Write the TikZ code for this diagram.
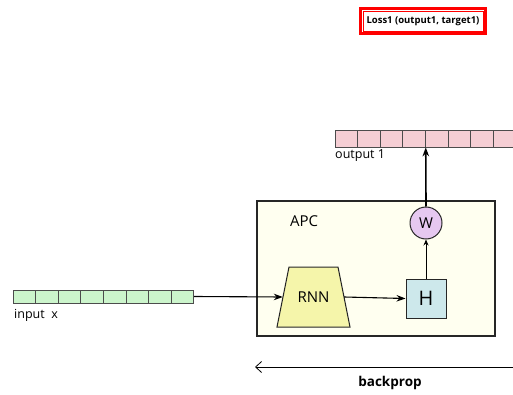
\documentclass[tikz,border=0pt]{standalone}
\usepackage{fontspec}
\setmainfont{Open Sans}
\usetikzlibrary{arrows.meta}
\usetikzlibrary{positioning}
\usetikzlibrary{shapes.geometric}

\definecolor{inGreen}{RGB}{204,245,204}
\definecolor{outPink}{RGB}{245,206,212}
\definecolor{apcYellow}{RGB}{255,255,240}
\definecolor{rnnYellow}{RGB}{245,245,170}
\definecolor{hBlue}{RGB}{205,232,235}
\definecolor{wPurple}{RGB}{230,200,240}

\tikzset{
  cell/.style={draw=black!70, line width=0.7pt, minimum width=22.6pt, inner sep=0pt},
  block/.style={draw=black!85, line width=1pt},
  flow/.style={-{Stealth[length=9pt,width=6.5pt]}, line width=1.1pt},
}

\begin{document}
\begin{tikzpicture}[x=1pt, y=1pt]
    \useasboundingbox (0,0) rectangle (513,-395);

    % loss box
    \node (loss) [draw=red, line width=0.8pt, minimum width=120pt, minimum height=20pt,
      font=\bfseries\fontsize{9.5}{11}\selectfont] at (423,-21) {Loss1 (output1, target1)};
    \draw [red, line width=3pt] ([shift={(-2.5,-2.5)}]loss.south west) rectangle ([shift={(2.5,2.5)}]loss.north east);

    % output strip
    \foreach \i in {1,...,9}
      \node (out\i) [cell, fill=outPink, minimum height=17pt] at (346.3+22.6*\i-22.6,-138.5) {};
    \node (outlab) [anchor=north west, inner sep=0pt, font=\fontsize{12.5}{14}\selectfont] at (335,-149) {output 1};

    % APC block
    \draw [block, fill=apcYellow, line width=1.4pt] (257,-201) rectangle (495,-336);
    \node (apc) [font=\fontsize{15}{17}\selectfont] at (304,-221) {APC};

    \node (w) [block, circle, fill=wPurple, minimum size=32pt, inner sep=0pt,
      font=\fontsize{15}{17}\selectfont] at (426,-223) {W};
    \node (h) [block, fill=hBlue, minimum width=40pt, minimum height=39pt, inner sep=0pt,
      font=\fontsize{20}{22}\selectfont] at (426,-298.5) {H};
    \draw [block, fill=rnnYellow] (289,-267) -- (338,-267) -- (350,-327) -- (277,-327) -- cycle;
    \node (rnn) [minimum width=61pt, minimum height=20pt, inner sep=0pt,
      font=\fontsize{15}{17}\selectfont] at (313.5,-297) {RNN};

    % input strip
    \foreach \i in {1,...,8}
      \node (in\i) [cell, fill=inGreen, minimum height=13pt] at (24.3+22.6*\i-22.6,-296.5) {};
    \node (inlab) [anchor=north west, inner sep=0pt, font=\fontsize{12.5}{14}\selectfont] at (14,-309) {input\ \ x};

    % connectors
    \draw [flow] (in8.east) -- (rnn.west);
    \draw [flow] (rnn.east) -- (h.west);
    \draw [-{Stealth[length=6pt,width=5pt]}, line width=0.8pt] (h.north) -- (w.south);
    \draw [flow, line width=1.6pt] (w.north) -- (out4.south east);

    % backprop
    \coordinate (bpR) at (513,-367);
    \coordinate (bpL) at (255,-367);
    \draw [-{Straight Barb[length=6pt,width=11pt]}, line width=0.8pt] (bpR) -- (bpL);
    \node (bplab) [font=\bfseries\fontsize{13.5}{15}\selectfont] at (390,-383) {backprop};
\end{tikzpicture}
\end{document}
